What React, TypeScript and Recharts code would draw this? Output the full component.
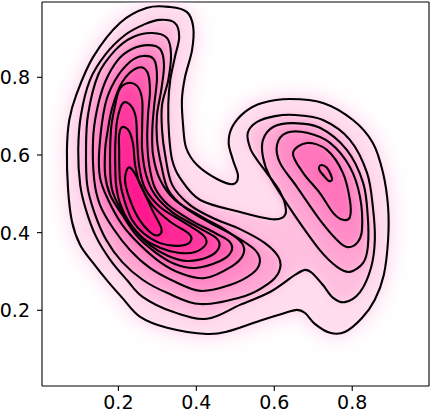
import React from 'react';
import { ScatterChart, Scatter, XAxis, YAxis, ReferenceLine } from 'recharts';

type Pt = [number, number];

// axis ticks and ranges
const xTicks = [0.2, 0.4, 0.6, 0.8];
const yTicks = [0.2, 0.4, 0.6, 0.8];
const xDomain: [number, number] = [0.004, 0.997];
const yDomain: [number, number] = [0.005, 0.994];

// contour level 1 (outermost, encloses both modes)
const level1: Pt[] = [
  [0.274, 0.979], [0.333, 0.981], [0.376, 0.968], [0.392, 0.93], [0.389, 0.87], [0.371, 0.801],
  [0.363, 0.742], [0.366, 0.677], [0.374, 0.618], [0.402, 0.574], [0.453, 0.538], [0.494, 0.525],
  [0.507, 0.546], [0.494, 0.587], [0.483, 0.631], [0.492, 0.672], [0.525, 0.711], [0.569, 0.734],
  [0.64, 0.744], [0.725, 0.734], [0.802, 0.69], [0.853, 0.631], [0.879, 0.554], [0.892, 0.466],
  [0.892, 0.381], [0.881, 0.291], [0.858, 0.227], [0.825, 0.18], [0.781, 0.144], [0.743, 0.142],
  [0.704, 0.165], [0.679, 0.193], [0.658, 0.201], [0.627, 0.193], [0.563, 0.173], [0.486, 0.147],
  [0.427, 0.139], [0.325, 0.155], [0.256, 0.183], [0.21, 0.232], [0.174, 0.273], [0.135, 0.322],
  [0.102, 0.368], [0.081, 0.428], [0.071, 0.51], [0.068, 0.613], [0.074, 0.69], [0.092, 0.755],
  [0.135, 0.852], [0.204, 0.94],
];

// contour level 2 (also encloses both modes)
const level2: Pt[] = [
  [0.307, 0.948], [0.345, 0.94], [0.356, 0.904], [0.345, 0.852], [0.333, 0.793], [0.328, 0.729],
  [0.33, 0.652], [0.338, 0.587], [0.358, 0.541], [0.41, 0.484], [0.512, 0.453], [0.589, 0.435],
  [0.62, 0.438], [0.63, 0.458], [0.615, 0.505], [0.579, 0.556], [0.556, 0.587], [0.538, 0.618],
  [0.532, 0.657], [0.556, 0.685], [0.602, 0.7], [0.653, 0.703], [0.725, 0.69], [0.794, 0.639],
  [0.838, 0.554], [0.853, 0.466], [0.858, 0.381], [0.848, 0.309], [0.82, 0.247], [0.781, 0.221],
  [0.751, 0.232], [0.725, 0.265], [0.697, 0.296], [0.679, 0.304], [0.653, 0.291], [0.589, 0.247],
  [0.512, 0.214], [0.427, 0.178], [0.34, 0.196], [0.263, 0.234], [0.222, 0.278], [0.179, 0.33],
  [0.143, 0.389], [0.117, 0.458], [0.102, 0.523], [0.097, 0.613], [0.104, 0.703], [0.127, 0.793],
  [0.166, 0.858], [0.217, 0.909], [0.268, 0.937],
];

// left mode, levels 3..10
const level3Left: Pt[] = [
  [0.287, 0.914], [0.325, 0.901], [0.335, 0.858], [0.328, 0.793], [0.312, 0.729], [0.312, 0.664],
  [0.32, 0.6], [0.338, 0.523], [0.384, 0.471], [0.448, 0.435], [0.512, 0.409], [0.576, 0.373],
  [0.612, 0.335], [0.612, 0.299], [0.584, 0.268], [0.525, 0.237], [0.41, 0.216], [0.325, 0.245],
  [0.263, 0.278], [0.21, 0.324], [0.169, 0.381], [0.138, 0.453], [0.12, 0.523], [0.117, 0.613],
  [0.122, 0.703], [0.148, 0.806], [0.192, 0.87], [0.238, 0.904],
];
const level4Left: Pt[] = [
  [0.276, 0.883], [0.307, 0.873], [0.317, 0.832], [0.31, 0.767], [0.299, 0.703], [0.299, 0.639],
  [0.31, 0.574], [0.328, 0.51], [0.371, 0.464], [0.435, 0.425], [0.499, 0.391], [0.551, 0.355],
  [0.563, 0.324], [0.543, 0.294], [0.486, 0.265], [0.41, 0.25], [0.34, 0.276], [0.281, 0.309],
  [0.23, 0.355], [0.186, 0.412], [0.153, 0.471], [0.138, 0.536], [0.135, 0.639], [0.145, 0.716],
  [0.166, 0.788], [0.199, 0.845], [0.235, 0.873],
];
const level5Left: Pt[] = [
  [0.263, 0.855], [0.292, 0.845], [0.299, 0.798], [0.292, 0.729], [0.287, 0.664], [0.289, 0.6],
  [0.307, 0.536], [0.345, 0.484], [0.41, 0.443], [0.474, 0.407], [0.517, 0.373], [0.52, 0.343],
  [0.492, 0.314], [0.422, 0.283], [0.358, 0.296], [0.307, 0.324], [0.256, 0.368], [0.21, 0.42],
  [0.174, 0.484], [0.153, 0.541], [0.151, 0.613], [0.166, 0.729], [0.192, 0.793], [0.23, 0.84],
];
const level6Left: Pt[] = [
  [0.248, 0.824], [0.274, 0.814], [0.281, 0.767], [0.276, 0.703], [0.274, 0.639], [0.279, 0.574],
  [0.294, 0.515], [0.328, 0.471], [0.384, 0.433], [0.448, 0.399], [0.486, 0.376], [0.489, 0.35],
  [0.461, 0.327], [0.397, 0.309], [0.345, 0.319], [0.294, 0.35], [0.248, 0.391], [0.21, 0.446],
  [0.179, 0.497], [0.166, 0.549], [0.166, 0.613], [0.171, 0.652], [0.184, 0.721], [0.21, 0.788],
];
const level7Left: Pt[] = [
  [0.222, 0.785], [0.248, 0.778], [0.261, 0.742], [0.261, 0.677], [0.261, 0.613], [0.271, 0.549],
  [0.294, 0.497], [0.338, 0.453], [0.402, 0.415], [0.451, 0.386], [0.458, 0.361], [0.43, 0.337],
  [0.376, 0.327], [0.328, 0.34], [0.281, 0.368], [0.238, 0.412], [0.204, 0.464], [0.184, 0.51],
  [0.179, 0.561], [0.181, 0.664], [0.192, 0.729], [0.202, 0.767],
];
const level8Left: Pt[] = [
  [0.212, 0.734], [0.233, 0.726], [0.245, 0.695], [0.248, 0.639], [0.253, 0.574], [0.268, 0.515],
  [0.307, 0.466], [0.366, 0.428], [0.417, 0.394], [0.425, 0.371], [0.397, 0.35], [0.353, 0.348],
  [0.307, 0.361], [0.263, 0.386], [0.227, 0.428], [0.204, 0.476], [0.194, 0.523], [0.192, 0.574],
  [0.192, 0.626], [0.197, 0.69],
];
const level9Left: Pt[] = [
  [0.21, 0.672], [0.227, 0.662], [0.238, 0.626], [0.243, 0.574], [0.256, 0.523], [0.287, 0.471],
  [0.333, 0.428], [0.381, 0.397], [0.384, 0.376], [0.353, 0.366], [0.307, 0.373], [0.266, 0.397],
  [0.235, 0.433], [0.215, 0.484], [0.204, 0.536], [0.202, 0.613], [0.202, 0.652],
];
const level10Left: Pt[] = [
  [0.225, 0.567], [0.24, 0.556], [0.261, 0.515], [0.287, 0.458], [0.31, 0.412], [0.304, 0.394],
  [0.284, 0.399], [0.251, 0.438], [0.227, 0.492], [0.217, 0.536],
];

// right mode, levels 3..6
const level3Right: Pt[] = [
  [0.571, 0.639], [0.597, 0.672], [0.648, 0.682], [0.717, 0.67], [0.786, 0.613], [0.828, 0.528],
  [0.84, 0.44], [0.84, 0.363], [0.828, 0.322], [0.794, 0.299], [0.761, 0.312], [0.717, 0.355],
  [0.648, 0.451], [0.589, 0.543], [0.571, 0.595],
];
const level4Right: Pt[] = [
  [0.607, 0.626], [0.632, 0.657], [0.684, 0.657], [0.743, 0.631], [0.794, 0.569], [0.82, 0.492],
  [0.825, 0.407], [0.812, 0.373], [0.786, 0.363], [0.761, 0.381], [0.717, 0.433], [0.658, 0.518],
  [0.615, 0.579],
];
const level5Right: Pt[] = [
  [0.648, 0.605], [0.684, 0.631], [0.735, 0.613], [0.776, 0.554], [0.794, 0.484], [0.794, 0.44],
  [0.776, 0.433], [0.751, 0.451], [0.717, 0.502], [0.674, 0.554],
];
const level6Right: Pt[] = [
  [0.715, 0.569], [0.722, 0.574], [0.735, 0.567], [0.745, 0.549], [0.748, 0.536], [0.74, 0.533],
  [0.73, 0.543], [0.717, 0.559],
];

// shading of the region inside each level
const levelShades = [
  '#ffdcee', '#ffc0e0', '#ffa6d3', '#ff8cc7', '#ff74bb',
  '#ff5fb1', '#ff4aa6', '#ff379d', '#ff2795', '#ff198e',
];

const contours: { key: string; level: number; pts: Pt[] }[] = [
  { key: 'l1', level: 1, pts: level1 },
  { key: 'l2', level: 2, pts: level2 },
  { key: 'l3a', level: 3, pts: level3Left },
  { key: 'l3b', level: 3, pts: level3Right },
  { key: 'l4a', level: 4, pts: level4Left },
  { key: 'l4b', level: 4, pts: level4Right },
  { key: 'l5a', level: 5, pts: level5Left },
  { key: 'l5b', level: 5, pts: level5Right },
  { key: 'l6a', level: 6, pts: level6Left },
  { key: 'l6b', level: 6, pts: level6Right },
  { key: 'l7a', level: 7, pts: level7Left },
  { key: 'l8a', level: 8, pts: level8Left },
  { key: 'l9a', level: 9, pts: level9Left },
  { key: 'l10a', level: 10, pts: level10Left },
];

const toRows = (pts: Pt[]) => pts.map(([x, y]) => ({ x, y }));

function smoothClosed(points: { x: number; y: number }[] | undefined): string {
  if (!points || points.length < 3) return '';
  const n = points.length;
  let d = `M${points[0].x},${points[0].y}`;
  for (let i = 0; i < n; i++) {
    const p0 = points[(i - 1 + n) % n];
    const p1 = points[i];
    const p2 = points[(i + 1) % n];
    const p3 = points[(i + 2) % n];
    const c1x = p1.x + (p2.x - p0.x) / 6;
    const c1y = p1.y + (p2.y - p0.y) / 6;
    const c2x = p2.x - (p3.x - p1.x) / 6;
    const c2y = p2.y - (p3.y - p1.y) / 6;
    d += ` C${c1x},${c1y} ${c2x},${c2y} ${p2.x},${p2.y}`;
  }
  return d + ' Z';
}

const ContourFill = (props: any) => (
  <path d={smoothClosed(props.points)} fill={props.shade} stroke="none" filter={`url(#${props.blurId})`} />
);

const ContourStroke = (props: any) => (
  <path
    d={smoothClosed(props.points)}
    fill="none"
    stroke="#000"
    strokeWidth={2.1}
    strokeLinejoin="round"
  />
);

const NoDot = () => <g />;

const XTick = (props: any) => (
  <text
    x={props.x}
    y={props.y + 18}
    textAnchor="middle"
    fontFamily="DejaVu Sans"
    fontSize={19}
    fill="#000"
  >
    {String(props.payload.value)}
  </text>
);

const YTick = (props: any) => (
  <text
    x={props.x}
    y={props.y + 7}
    textAnchor="end"
    fontFamily="DejaVu Sans"
    fontSize={19}
    fill="#000"
  >
    {String(props.payload.value)}
  </text>
);

export default function App() {
  return (
    <div style={{ position: 'absolute', left: 0, top: 0, width: 431, height: 412, background: '#fff' }}>
      <ScatterChart width={431} height={412} margin={{ top: 2, right: 2, bottom: 0, left: 0 }}>
        <defs>
          <filter id="haloBlur" x="-40%" y="-40%" width="180%" height="180%">
            <feGaussianBlur stdDeviation={12} />
          </filter>
          <filter id="softBlur" x="-40%" y="-40%" width="180%" height="180%">
            <feGaussianBlur stdDeviation={4.5} />
          </filter>
        </defs>
        <XAxis
          dataKey="x"
          type="number"
          domain={xDomain}
          ticks={xTicks}
          allowDataOverflow
          height={26}
          tickSize={5}
          tickMargin={0}
          axisLine={{ stroke: '#000', strokeWidth: 1.1 }}
          tickLine={{ stroke: '#000', strokeWidth: 1.1 }}
          tick={<XTick />}
        />
        <YAxis
          dataKey="y"
          type="number"
          domain={yDomain}
          ticks={yTicks}
          allowDataOverflow
          width={42}
          tickSize={5}
          tickMargin={7}
          axisLine={{ stroke: '#000', strokeWidth: 1.1 }}
          tickLine={{ stroke: '#000', strokeWidth: 1.1 }}
          tick={<YTick />}
        />
        <Scatter
          key="halo"
          data={toRows(level1)}
          isAnimationActive={false}
          shape={<NoDot />}
          line={<ContourFill shade="#ffcfe6" blurId="haloBlur" />}
          lineType="joint"
          legendType="none"
        />
        {contours.map((c) => (
          <Scatter
            key={`fill-${c.key}`}
            data={toRows(c.pts)}
            isAnimationActive={false}
            shape={<NoDot />}
            line={<ContourFill shade={levelShades[c.level - 1]} blurId="softBlur" />}
            lineType="joint"
            legendType="none"
          />
        ))}
        {contours.map((c) => (
          <Scatter
            key={`line-${c.key}`}
            data={toRows(c.pts)}
            isAnimationActive={false}
            shape={<NoDot />}
            line={<ContourStroke />}
            lineType="joint"
            legendType="none"
          />
        ))}
        <ReferenceLine y={yDomain[1]} stroke="#000" strokeWidth={1.1} />
        <ReferenceLine x={xDomain[1]} stroke="#000" strokeWidth={1.1} />
      </ScatterChart>
    </div>
  );
}
